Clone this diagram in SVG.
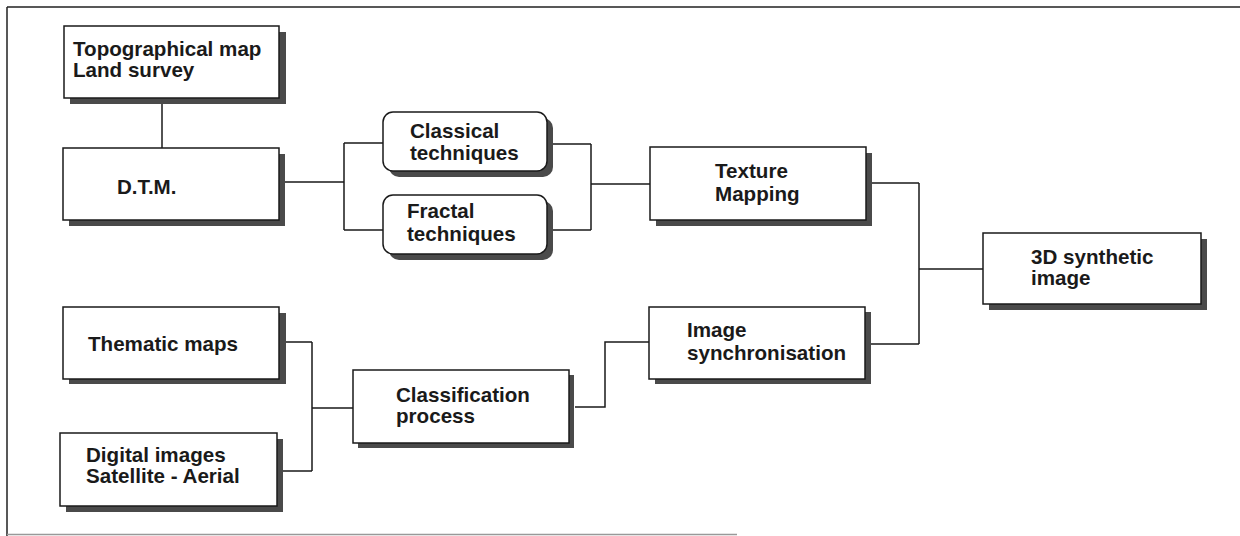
<svg xmlns="http://www.w3.org/2000/svg" width="1240" height="536" viewBox="0 0 1240 536">
<defs>
<style>
.sh{fill:#4a4a4a;stroke:none}
.bx{fill:#fff;stroke:#1a1a1a;stroke-width:1.5}
.t{font-family:"Liberation Sans",Arial,sans-serif;font-weight:bold;font-size:20.6px;fill:#1a1a1a}
.c{fill:none;stroke:#1a1a1a;stroke-width:1.5}
</style>
</defs>
<rect width="1240" height="536" fill="#fff"/>
<g id="frame">
<path d="M7,7 H1240 M7,7 V536" fill="none" stroke="#222" stroke-width="1.5"/>
<path d="M7,534.5 H737" fill="none" stroke="#999" stroke-width="1.5"/>
</g>
<g id="connectors">
<path class="c" d="M162,98 V148"/>
<path class="c" d="M285,182 H344 M344,143 V230 M344,143 H383 M344,230 H383"/>
<path class="c" d="M553,144 H591 M553,230 H591 M591,144 V230 M591,184 H650"/>
<path class="c" d="M872,183 H919 M871,344 H919 M919,183 V344 M919,269 H983"/>
<path class="c" d="M286,342 H312 M283,471 H312 M312,342 V471 M312,408 H353"/>
<path class="c" d="M575,407 H605 V342 H649"/>
</g>
<g id="topo">
<rect class="sh" x="70" y="32" width="216" height="72"/>
<rect class="bx" x="64" y="26" width="215" height="72"/>
<text class="t" x="73" y="56">Topographical map</text>
<text class="t" x="73" y="77">Land survey</text>
</g>
<g id="dtm">
<rect class="sh" x="69" y="154" width="216" height="72"/>
<rect class="bx" x="63" y="148" width="216" height="72"/>
<text class="t" x="117" y="194">D.T.M.</text>
</g>
<g id="classical">
<rect class="sh" x="389" y="118" width="164" height="59" rx="10"/>
<rect class="bx" x="383" y="112" width="164" height="59" rx="10"/>
<text class="t" x="410" y="138">Classical</text>
<text class="t" x="410" y="160">techniques</text>
</g>
<g id="fractal">
<rect class="sh" x="389" y="201" width="164" height="59" rx="10"/>
<rect class="bx" x="383" y="195" width="164" height="59" rx="10"/>
<text class="t" x="407" y="218">Fractal</text>
<text class="t" x="407" y="241">techniques</text>
</g>
<g id="texture">
<rect class="sh" x="656" y="153" width="216" height="73"/>
<rect class="bx" x="650" y="147" width="216" height="73"/>
<text class="t" x="715" y="178">Texture</text>
<text class="t" x="715" y="201">Mapping</text>
</g>
<g id="synthetic">
<rect class="sh" x="989" y="239" width="218" height="71"/>
<rect class="bx" x="983" y="233" width="218" height="71"/>
<text class="t" x="1031" y="264">3D synthetic</text>
<text class="t" x="1031" y="285">image</text>
</g>
<g id="thematic">
<rect class="sh" x="69" y="313" width="217" height="71"/>
<rect class="bx" x="63" y="307" width="216" height="72"/>
<text class="t" x="88" y="351">Thematic maps</text>
</g>
<g id="digital">
<rect class="sh" x="66" y="439" width="217" height="73"/>
<rect class="bx" x="60" y="433" width="217" height="73"/>
<text class="t" x="86" y="462">Digital images</text>
<text class="t" x="86" y="483">Satellite - Aerial</text>
</g>
<g id="classification">
<rect class="sh" x="358" y="375" width="216" height="73"/>
<rect class="bx" x="353" y="370" width="216" height="73"/>
<text class="t" x="396" y="402">Classification</text>
<text class="t" x="396" y="423">process</text>
</g>
<g id="imagesync">
<rect class="sh" x="655" y="312" width="216" height="72"/>
<rect class="bx" x="649" y="307" width="216" height="72"/>
<text class="t" x="687" y="337">Image</text>
<text class="t" x="687" y="360">synchronisation</text>
</g>
</svg>
